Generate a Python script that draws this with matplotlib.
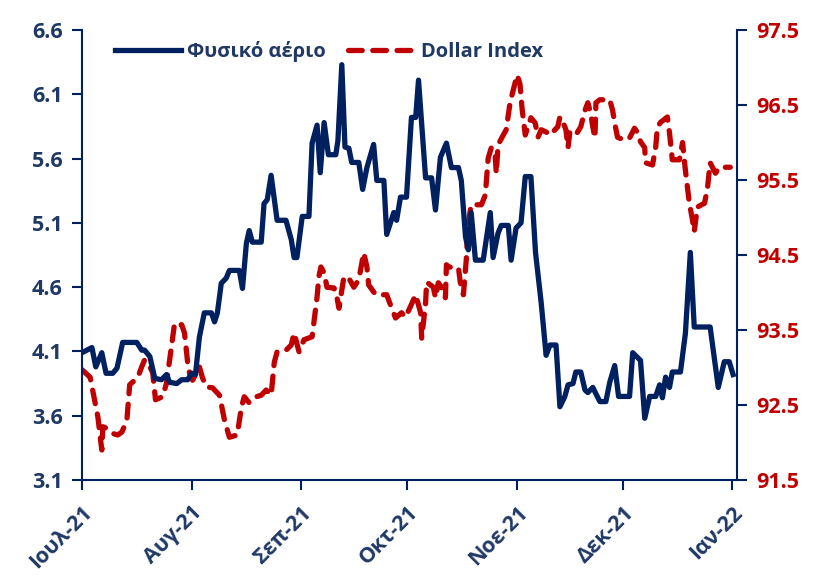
import matplotlib
matplotlib.use('Agg')
import matplotlib.pyplot as plt
import pandas as pd

start = pd.Timestamp('2021-07-01')

gas_day = [0, 2.8, 3.9, 5.6, 6.8, 8.7, 9.9, 11.5, 15.5, 16.9, 17.7, 19.2, 20.6, 22.5, 23.9, 24.8,
           26.8, 28.2, 29.9, 31.0, 32.1, 33.2, 34.6, 36.6, 37.5, 38.3, 39.4, 40.8, 41.7, 44.5, 45.4,
           46.5, 47.3, 48.2, 50.7, 51.5, 52.4, 53.5, 55.2, 57.7, 59.2, 60.0, 60.8, 62.3, 64.2, 65.1,
           66.5, 67.4, 68.5, 69.7, 71.8, 72.4, 73.5, 74.4, 75.5, 76.3, 78.3, 79.4, 80.6, 82.5, 83.4,
           85.4, 86.2, 88.2, 89.0, 90.1, 91.8, 93.2, 94.4, 95.2, 97.2, 98.9, 100.0, 101.4, 103.1,
           104.5, 106.5, 107.3, 108.5, 109.3, 110.1, 111.3, 113.5, 115.5, 116.3, 117.7, 118.6, 120.6,
           121.4, 122.8, 124.2, 125.4, 127.0, 128.3, 129.9, 131.3, 132.4, 134.1, 135.2, 136.6, 137.5,
           138.9, 139.7, 141.1, 142.3, 143.1, 144.5, 146.5, 148.2, 149.3, 150.7, 151.8, 154.9, 155.8,
           158.0, 159.2, 160.6, 162.3, 163.4, 164.2, 165.1, 166.2, 167.0, 169.3, 170.7, 172.1, 173.2,
           177.7, 180.0, 181.7, 183.1, 184.2]
gas_val = [4.09, 4.13, 3.98, 4.09, 3.93, 3.93, 3.97, 4.17, 4.17, 4.11, 4.11, 4.06, 3.89, 3.88, 3.92, 3.86,
           3.85, 3.88, 3.88, 3.93, 3.92, 4.21, 4.40, 4.40, 4.33, 4.40, 4.63, 4.67, 4.73, 4.73, 4.59,
           4.94, 5.04, 4.95, 4.95, 5.25, 5.28, 5.47, 5.12, 5.12, 4.97, 4.83, 4.83, 5.15, 5.15, 5.72,
           5.86, 5.49, 5.88, 5.63, 5.63, 5.74, 6.33, 5.69, 5.68, 5.57, 5.57, 5.36, 5.53, 5.71, 5.43,
           5.43, 5.01, 5.18, 5.12, 5.30, 5.30, 5.92, 5.92, 6.21, 5.45, 5.45, 5.20, 5.61, 5.72,
           5.53, 5.53, 5.43, 4.99, 4.89, 5.18, 4.81, 4.81, 5.18, 4.83, 5.02, 5.08, 5.08,
           4.81, 5.06, 5.10, 5.46, 5.46, 4.87, 4.48, 4.07, 4.15, 4.15, 3.67, 3.75, 3.84,
           3.85, 3.94, 3.94, 3.80, 3.78, 3.82, 3.71, 3.71, 3.86, 3.99, 3.75, 3.75, 4.09,
           4.03, 3.58, 3.75, 3.75, 3.84, 3.74, 3.90, 3.82, 3.94, 3.94, 4.24, 4.87, 4.29,
           4.29, 3.82, 4.02, 4.02, 3.92]

dxy_day = [0, 2.3, 3.7, 4.5, 5.6, 5.9, 7.0, 8.7, 10.1, 11.3, 12.7, 13.5, 14.9, 15.8, 16.9, 17.7, 19.2,
           20.0, 20.8, 22.8, 23.9, 24.8, 26.2, 28.2, 29.0, 29.9, 30.4, 31.3, 33.2, 34.1, 35.2, 36.9,
           38.9, 40.3, 41.7, 43.9, 45.1, 45.9, 47.3, 49.3, 50.7, 52.1, 53.5, 54.4, 55.2, 57.7, 59.2,
           60.0, 61.4, 62.8, 65.1, 66.5, 67.0, 67.6, 68.5, 69.3, 71.3, 72.1, 72.7, 74.1, 75.5, 76.9,
           78.3, 79.7, 80.6, 81.1, 83.1, 86.2, 87.3, 88.7, 90.4, 91.5, 92.9, 94.4, 95.8, 96.1, 97.2,
           97.5, 99.4, 100.0, 100.8, 101.7, 102.8, 103.1, 103.7, 106.5, 107.0, 107.9, 108.7, 109.3,
           110.1, 113.0, 114.1, 114.9, 115.8, 116.9, 117.2, 117.7, 120.0, 121.1, 122.0, 123.1, 123.9,
           124.5, 125.4, 127.0, 128.2, 129.0, 129.9, 131.3, 132.4, 134.6, 135.2, 136.1, 136.9, 137.5,
           138.0, 139.7, 141.1, 142.3, 143.1, 143.9, 144.5, 145.1, 145.4, 146.5, 149.3, 150.1, 150.7,
           151.5, 153.5, 154.9, 156.3, 157.2, 158.0, 159.2, 159.4, 161.4, 162.3, 162.8, 163.7, 165.6,
           166.2, 167.0, 169.0, 169.9, 170.7, 171.8, 172.7, 173.2, 174.1, 176.1, 176.9, 177.7, 179.2,
           180.3, 183.4]
dxy_val = [92.97, 92.87, 92.53, 92.34, 91.90, 92.21, 92.19, 92.12, 92.10, 92.14, 92.30, 92.77, 92.83, 92.87,
           93.01, 93.10, 93.01, 92.93, 92.57, 92.61, 92.79, 93.10, 93.59, 93.57, 93.46, 93.06, 92.93,
           92.83, 93.01, 92.86, 92.74, 92.73, 92.63, 92.30, 92.07, 92.10, 92.47, 92.61, 92.53, 92.61,
           92.63, 92.70, 92.63, 93.07, 93.21, 93.23, 93.30, 93.46, 93.21, 93.37, 93.41, 93.94, 94.21,
           94.34, 94.26, 94.07, 94.06, 93.94, 93.79, 94.21, 94.19, 94.07, 94.17, 94.53, 94.34, 94.10,
           93.97, 93.97, 93.83, 93.66, 93.73, 93.67, 93.81, 93.97, 93.73, 93.39, 93.86, 94.14, 94.07,
           93.93, 94.13, 94.07, 93.93, 94.37, 94.34, 94.33, 94.14, 93.97, 94.43, 94.93, 95.17, 95.17,
           95.30, 95.79, 95.93, 95.83, 95.59, 95.97, 96.17, 96.53, 96.70, 96.90, 96.78, 96.45, 96.10,
           96.33, 96.26, 96.07, 96.17, 96.14, 96.10, 96.21, 96.34, 96.27, 96.17, 95.93, 96.14, 96.10,
           96.21, 96.43, 96.53, 96.39, 96.21, 96.06, 96.53, 96.57, 96.57, 96.43, 96.26, 96.07, 96.03,
           96.06, 96.19, 96.13, 96.01, 95.93, 95.73, 95.70, 95.94, 96.21, 96.27, 96.34, 96.13, 95.77,
           95.77, 96.00, 95.63, 95.20, 94.97, 94.81, 95.14, 95.19, 95.37, 95.73, 95.59, 95.67, 95.67]

tick_dates = ['2021-07-01', '2021-08-01', '2021-09-01', '2021-10-01', '2021-11-01', '2021-12-01', '2022-01-01']
tick_labels = ['Ιουλ-21', 'Αυγ-21', 'Σεπ-21', 'Οκτ-21', 'Νοε-21', 'Δεκ-21', 'Ιαν-22']
left_ticks = [3.1, 3.6, 4.1, 4.6, 5.1, 5.6, 6.1, 6.6]
right_ticks = [91.5, 92.5, 93.5, 94.5, 95.5, 96.5, 97.5]

NAVY = '#002060'
TXT = '#1F3864'
RED = '#C00000'
FONT = ['Open Sans', 'DejaVu Sans']
plt.rcParams['font.family'] = FONT
plt.rcParams['font.weight'] = 'bold'

gas_dates = start + pd.to_timedelta(gas_day, unit='D')
dxy_dates = start + pd.to_timedelta(dxy_day, unit='D')

fig = plt.figure(figsize=(8.22, 5.80), dpi=100)
ax = fig.add_axes([82 / 822, 100 / 580, 655 / 822, 450 / 580])
ax2 = ax.twinx()

l1, = ax.plot(gas_dates, gas_val, color=NAVY, lw=3.8, solid_joinstyle='round', label='Φυσικό αέριο', zorder=3)
l2, = ax2.plot(dxy_dates, dxy_val, color=RED, lw=3.8, dashes=(2.6, 2.0), dash_capstyle='round',
               label='Dollar Index', zorder=2)
ax.set_zorder(ax2.get_zorder() + 1)
ax.patch.set_visible(False)

ax.set_xlim(start, start + pd.Timedelta(days=185.3))
ax.set_ylim(3.1, 6.6)
ax2.set_ylim(91.5, 97.5)
ax.set_yticks(left_ticks)
ax.set_yticklabels([f'{v:.1f}' for v in left_ticks])
ax2.set_yticks(right_ticks)
ax2.set_yticklabels([f'{v:.1f}' for v in right_ticks])
ax.set_xticks(pd.to_datetime(tick_dates))
ax.set_xticklabels(tick_labels, rotation=45, ha='right', rotation_mode='anchor')

for a in (ax, ax2):
    a.spines['top'].set_visible(False)
    for s in ('left', 'right', 'bottom'):
        a.spines[s].set_color(NAVY)
        a.spines[s].set_linewidth(1.5)
ax.spines['right'].set_visible(False)
ax2.spines['left'].set_visible(False)
ax2.spines['bottom'].set_visible(False)

ax.tick_params(axis='y', direction='out', length=7, width=1.5, color=NAVY, labelcolor=TXT, labelsize=15.5, pad=7)
ax.tick_params(axis='x', direction='out', length=7, width=1.5, color=NAVY, labelcolor=TXT, labelsize=15.5, pad=9)
ax2.tick_params(axis='y', direction='out', length=7, width=1.5, color=NAVY, labelcolor=RED, labelsize=15.5, pad=7)
for lab in ax.get_xticklabels() + ax.get_yticklabels() + ax2.get_yticklabels():
    lab.set_fontweight('bold')

leg = ax.legend(handles=[l1, l2], loc='center left', bbox_to_anchor=(0.038, 0.952), ncol=2, frameon=False,
                fontsize=14.5, handlelength=3.3, handletextpad=0.3, columnspacing=1.1, borderaxespad=0)
for t in leg.get_texts():
    t.set_color(TXT)
    t.set_fontweight('bold')

fig.savefig('out.png', dpi=100)
